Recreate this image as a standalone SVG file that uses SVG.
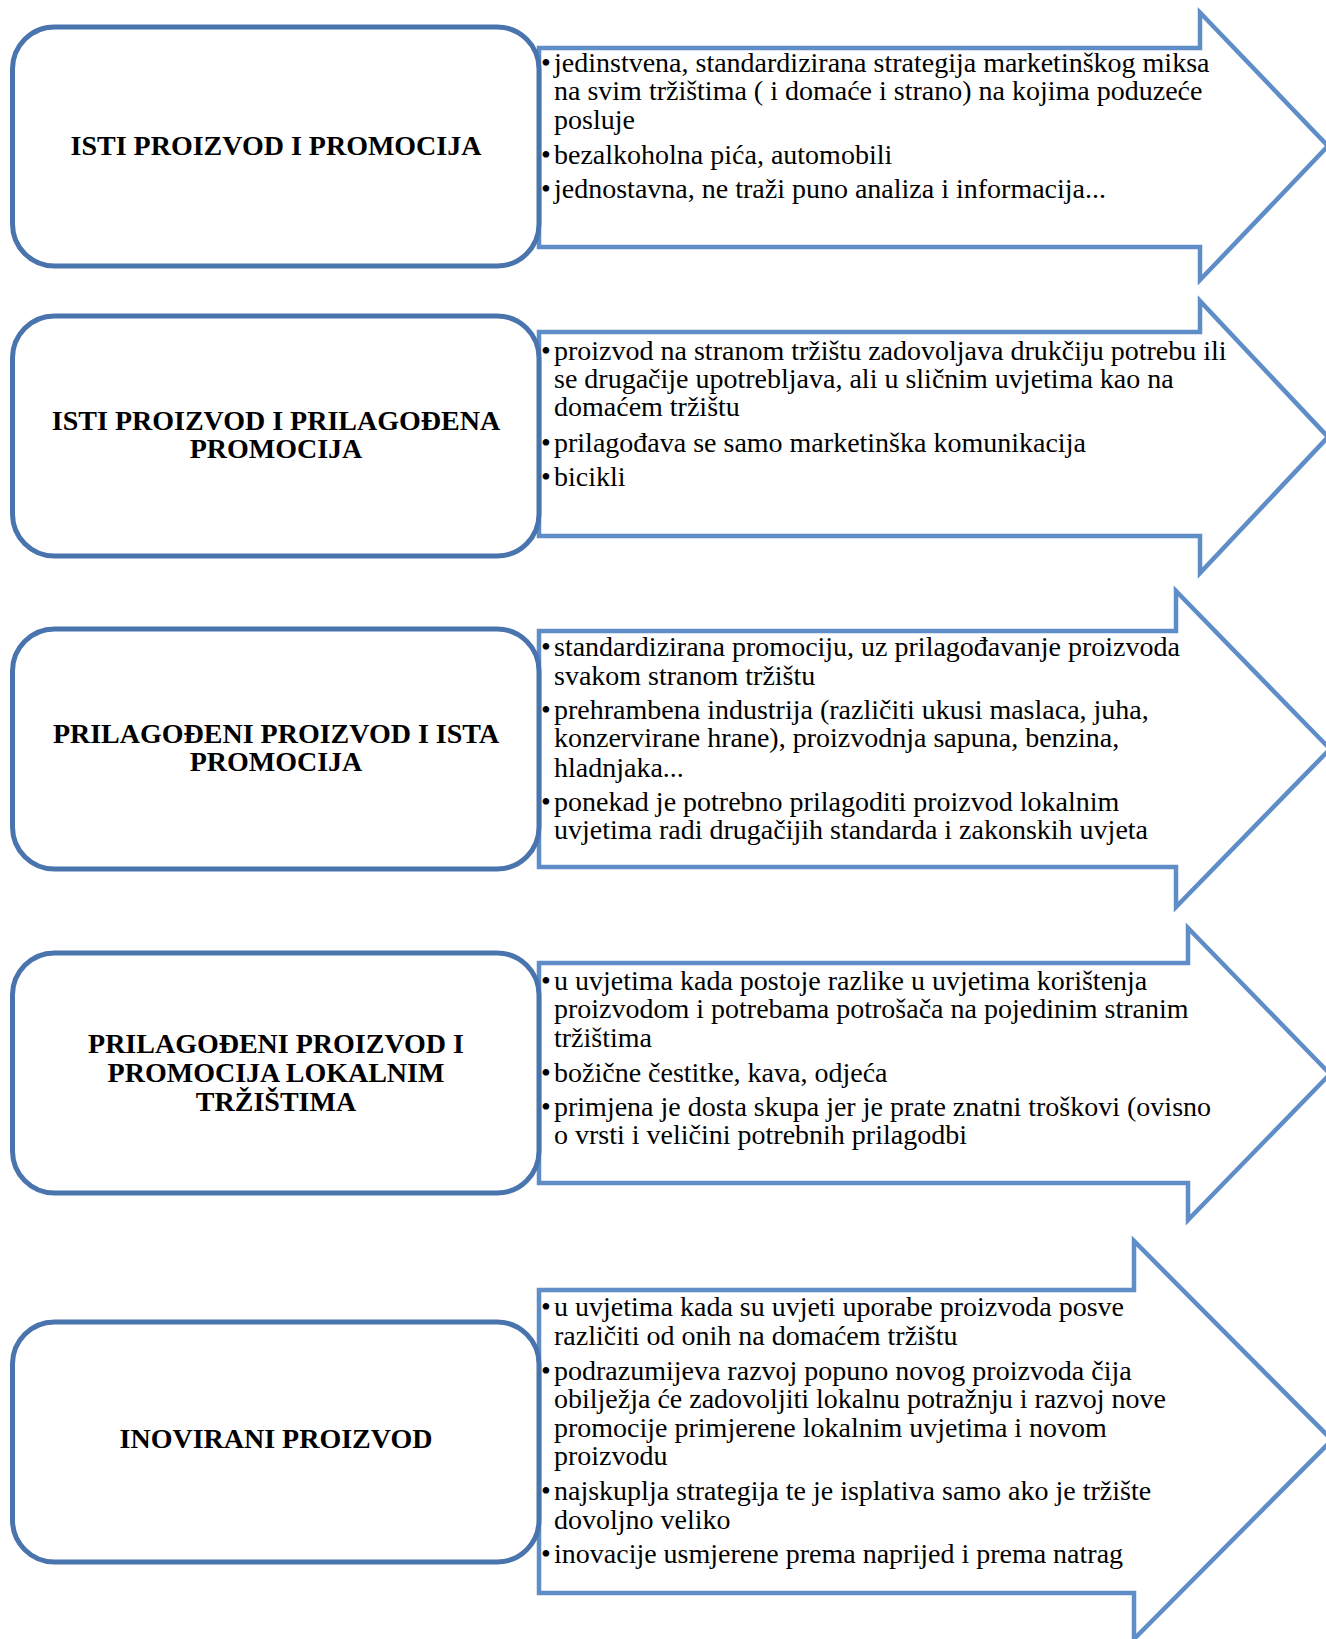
<svg xmlns="http://www.w3.org/2000/svg" width="1326" height="1639" viewBox="0 0 1326 1639">
<style>
.arrow{fill:#ffffff;stroke:#5f8dc8;stroke-width:4.5;stroke-linejoin:miter}
.box{fill:#ffffff;stroke:#4a74ae;stroke-width:5}
.t{font-family:"Liberation Serif","Times New Roman",serif;font-size:28px;fill:#000}
.h{font-family:"Liberation Serif","Times New Roman",serif;font-size:28px;font-weight:bold;fill:#000;text-anchor:middle}
</style>
<rect width="1326" height="1639" fill="#ffffff"/>
<g id="connectors">
<path class="arrow" d="M539,48 H1200 V12.5 L1328,146 L1200,280 V247 H539 Z"/>
<path class="arrow" d="M539,332 H1200 V301 L1328,437 L1200,573 V536 H539 Z"/>
<path class="arrow" d="M539,631 H1176 V591 L1330,749 L1176,907 V867 H539 Z"/>
<path class="arrow" d="M539,963 H1188 V928 L1330,1074 L1188,1220 V1183 H539 Z"/>
<path class="arrow" d="M539,1290 H1134 V1241 L1332,1440 L1134,1639 V1593 H539 Z"/>
</g>
<g id="node1">
<rect class="box" x="12.5" y="27" width="526.5" height="239" rx="42"/>
<text class="h" x="276" y="155">ISTI PROIZVOD I PROMOCIJA</text>
</g>
<g id="text1" class="t">
<text y="72"><tspan x="541">•</tspan><tspan x="554">jedinstvena, standardizirana strategija marketinškog miksa</tspan></text>
<text x="554" y="100">na svim tržištima ( i domaće i strano) na kojima poduzeće</text>
<text x="554" y="129">posluje</text>
<text y="164"><tspan x="541">•</tspan><tspan x="554">bezalkoholna pića, automobili</tspan></text>
<text y="198"><tspan x="541">•</tspan><tspan x="554">jednostavna, ne traži puno analiza i informacija...</tspan></text>
</g>
<g id="node2">
<rect class="box" x="12.5" y="316" width="526.5" height="240" rx="42"/>
<text class="h" x="276" y="429.5">ISTI PROIZVOD I PRILAGOĐENA</text>
<text class="h" x="276" y="457.7">PROMOCIJA</text>
</g>
<g id="text2" class="t">
<text y="359.5"><tspan x="541">•</tspan><tspan x="554">proizvod na stranom tržištu zadovoljava drukčiju potrebu ili</tspan></text>
<text x="554" y="388">se drugačije upotrebljava, ali u sličnim uvjetima kao na</text>
<text x="554" y="416">domaćem tržištu</text>
<text y="451.5"><tspan x="541">•</tspan><tspan x="554">prilagođava se samo marketinška komunikacija</tspan></text>
<text y="486"><tspan x="541">•</tspan><tspan x="554">bicikli</tspan></text>
</g>
<g id="node3">
<rect class="box" x="12.5" y="629" width="526.5" height="240" rx="42"/>
<text class="h" x="276" y="743">PRILAGOĐENI PROIZVOD I ISTA</text>
<text class="h" x="276" y="771">PROMOCIJA</text>
</g>
<g id="text3" class="t">
<text y="656"><tspan x="541">•</tspan><tspan x="554">standardizirana promociju, uz prilagođavanje proizvoda</tspan></text>
<text x="554" y="684.5">svakom stranom tržištu</text>
<text y="719"><tspan x="541">•</tspan><tspan x="554">prehrambena industrija (različiti ukusi maslaca, juha,</tspan></text>
<text x="554" y="747">konzervirane hrane), proizvodnja sapuna, benzina,</text>
<text x="554" y="776.5">hladnjaka...</text>
<text y="811"><tspan x="541">•</tspan><tspan x="554">ponekad je potrebno prilagoditi proizvod lokalnim</tspan></text>
<text x="554" y="839">uvjetima radi drugačijih standarda i zakonskih uvjeta</text>
</g>
<g id="node4">
<rect class="box" x="12.5" y="953" width="526.5" height="240" rx="42"/>
<text class="h" x="276" y="1053">PRILAGOĐENI PROIZVOD I</text>
<text class="h" x="276" y="1081.6">PROMOCIJA LOKALNIM</text>
<text class="h" x="276" y="1110.8">TRŽIŠTIMA</text>
</g>
<g id="text4" class="t">
<text y="989.6"><tspan x="541">•</tspan><tspan x="554">u uvjetima kada postoje razlike u uvjetima korištenja</tspan></text>
<text x="554" y="1018">proizvodom i potrebama potrošača na pojedinim stranim</text>
<text x="554" y="1047">tržištima</text>
<text y="1081.6"><tspan x="541">•</tspan><tspan x="554">božične čestitke, kava, odjeća</tspan></text>
<text y="1116"><tspan x="541">•</tspan><tspan x="554">primjena je dosta skupa jer je prate znatni troškovi (ovisno</tspan></text>
<text x="554" y="1144">o vrsti i veličini potrebnih prilagodbi</text>
</g>
<g id="node5">
<rect class="box" x="12.5" y="1322" width="526.5" height="240" rx="42"/>
<text class="h" x="276" y="1448">INOVIRANI PROIZVOD</text>
</g>
<g id="text5" class="t">
<text y="1315.6"><tspan x="541">•</tspan><tspan x="554">u uvjetima kada su uvjeti uporabe proizvoda posve</tspan></text>
<text x="554" y="1345">različiti od onih na domaćem tržištu</text>
<text y="1379.5"><tspan x="541">•</tspan><tspan x="554">podrazumijeva razvoj popuno novog proizvoda čija</tspan></text>
<text x="554" y="1407.6">obilježja će zadovoljiti lokalnu potražnju i razvoj nove</text>
<text x="554" y="1436.9">promocije primjerene lokalnim uvjetima i novom</text>
<text x="554" y="1465">proizvodu</text>
<text y="1499.5"><tspan x="541">•</tspan><tspan x="554">najskuplja strategija te je isplativa samo ako je tržište</tspan></text>
<text x="554" y="1528.8">dovoljno veliko</text>
<text y="1563"><tspan x="541">•</tspan><tspan x="554">inovacije usmjerene prema naprijed i prema natrag</tspan></text>
</g>
</svg>
